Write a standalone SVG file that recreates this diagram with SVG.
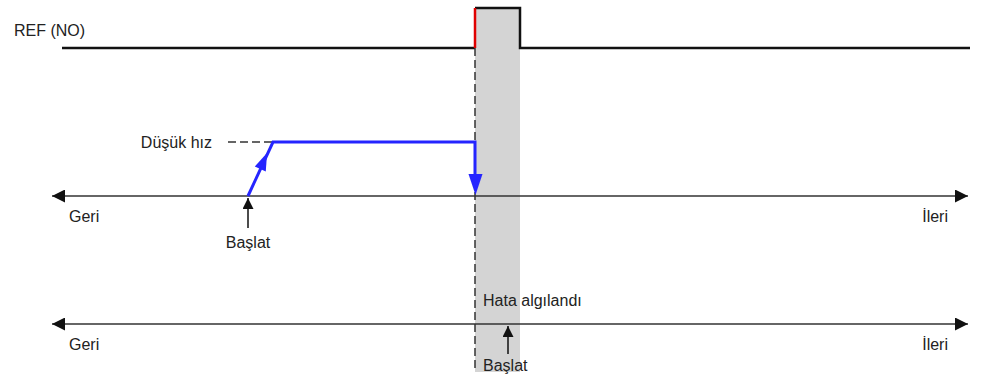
<svg xmlns="http://www.w3.org/2000/svg" width="986" height="378" viewBox="0 0 986 378">
<style>
text{font-family:"Liberation Sans",Arial,sans-serif;font-size:16px;fill:#222}
.ax{stroke:#333;stroke-width:1.5;fill:none}
.blk{stroke:#111;stroke-width:2.5;fill:none}
.blue{stroke:#2525ff;stroke-width:3;fill:none}
.bfill{fill:#2525ff}
.dash{stroke:#333;stroke-width:1.5;fill:none;stroke-dasharray:8 4}
</style>
<defs>
<marker id="ah" viewBox="0 0 10 10" refX="10" refY="5" markerWidth="18" markerHeight="13" markerUnits="userSpaceOnUse" orient="auto"><path d="M0,0L10,5L0,10z" fill="#111"/></marker>
<marker id="sh" viewBox="0 0 10 10" refX="10" refY="5" markerWidth="15" markerHeight="11" markerUnits="userSpaceOnUse" orient="auto"><path d="M0,0L10,5L0,10z" fill="#111"/></marker>
</defs>
<rect x="475" y="8" width="45" height="364" fill="#d4d4d4"/>
<g id="ref">
<text x="14" y="36">REF (NO)</text>
<path class="blk" d="M62,48H475M475,8H520V48H970"/>
<path d="M475,48V8" stroke="#e00000" stroke-width="2.5"/>
</g>
<g id="connectors">
<path class="dash" d="M475,48V372"/>
<path class="ax" d="M510,196H52" marker-end="url(#ah)"/>
<path class="ax" d="M510,196H968" marker-end="url(#ah)"/>
<path class="ax" d="M510,324H52" marker-end="url(#ah)"/>
<path class="ax" d="M510,324H968" marker-end="url(#ah)"/>
<path class="dash" d="M228,142H273"/>
<path class="blue" d="M248,196L273,142H475V178"/>
<polygon class="bfill" points="267,153 254.8,166.5 265.8,171.5"/>
<polygon class="bfill" points="468.5,174 482.5,174 475.5,195"/>
<path d="M248,228V198" stroke="#111" stroke-width="1.5" marker-end="url(#sh)"/>
<path d="M508,354V326" stroke="#111" stroke-width="1.5" marker-end="url(#sh)"/>
</g>
<g id="labels">
<text x="69" y="222">Geri</text>
<text x="948" y="222" text-anchor="end">İleri</text>
<text x="69" y="350">Geri</text>
<text x="948" y="350" text-anchor="end">İleri</text>
<text x="212" y="148" text-anchor="end">Düşük hız</text>
<text x="248" y="248" text-anchor="middle">Başlat</text>
<text x="483" y="306">Hata algılandı</text>
<text x="483" y="371">Başlat</text>
</g>
</svg>
